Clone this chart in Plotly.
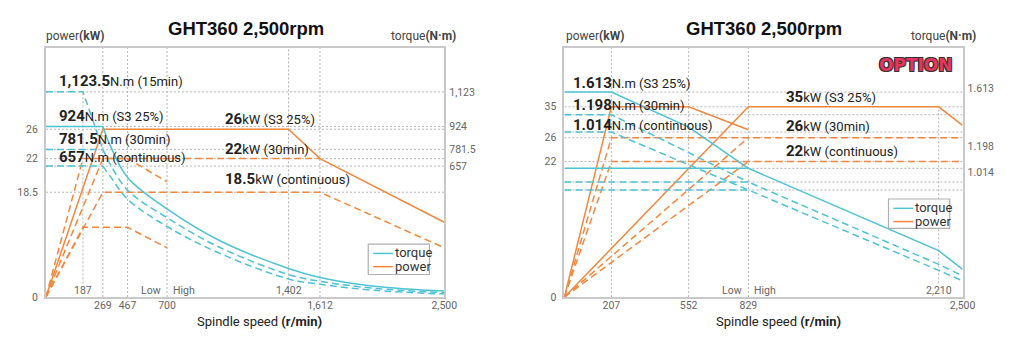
import numpy as np
import plotly.graph_objects as go

# ================= DATA =================
# ---- left chart (standard) ----
L_TITLE = "GHT360 2,500rpm"
L_X_TICKS = [269, 467, 700, 1612, 2500]
L_X_TICKTEXT = ["269", "467", "700", "1,612", "2,500"]
L_X_INNER = [187, 1402]
L_X_INNER_TEXT = ["187", "1,402"]
L_GEAR_RPM = 700
L_P_TICKS = [0, 18.5, 22, 26]
L_P_TICKTEXT = ["0", "18.5", "22", "26"]
L_T_TICKS = [657, 781.5, 924, 1123.5]
L_T_TICKTEXT = ["657", "781.5", "924", "1,123"]

# power (kW)
L_S3_RPM = [0, 269, 1402, 1612, 2500]
L_S3_KW = [0, 26, 26, 22, 13.2]
L_30_RPM = [0, 269, 1612]
L_30_KW = [0, 22, 22]
L_CONT_RPM = [0, 269, 1612, 2500]
L_CONT_KW = [0, 18.5, 18.5, 8.7]
L_LOW15_RPM = [0, 187, 467, 700]
L_LOW15_KW = [0, 22, 22, 19.6]
L_LOWC_RPM = [0, 187, 467, 700]
L_LOWC_KW = [0, 12.3, 12.3, 8.7]

# torque (N.m)
L_TQ_FLAT_RPM = [0, 269]
L_TQ_CURVE_RPM = [269, 330, 467, 700, 1000, 1402, 1612, 2000, 2500]
L_TQ_S3 = [924, 802, 600, 442, 285, 143, 98, 54, 30]
L_TQ_30 = [781.5, 667, 536, 398, 251, 113, 79, 44, 22]
L_TQ_CONT = [657, 604, 491, 354, 221, 91, 64, 34, 15]
L_TQ_15_RPM = [0, 187, 269]
L_TQ_15 = [1123.5, 1123.5, 781.5]

L_LABELS_T = [("1,123.5", "N.m (15min)"), ("924", "N.m (S3 25%)"),
              ("781.5", "N.m (30min)"), ("657", "N.m (continuous)")]
L_LABELS_P = [("26", "kW (S3 25%)"), ("22", "kW (30min)"), ("18.5", "kW (continuous)")]

# ---- right chart (option) ----
R_TITLE = "GHT360 2,500rpm"
R_X_TICKS = [207, 552, 829, 2500]
R_X_TICKTEXT = ["207", "552", "829", "2,500"]
R_X_INNER = [2210]
R_X_INNER_TEXT = ["2,210"]
R_GEAR_RPM = 829
R_P_TICKS = [0, 22, 26, 35]
R_P_TICKTEXT = ["0", "22", "26", "35"]
R_T_TICKTEXT = ["1.613", "1.198", "1.014"]

R_LOW_S3_RPM = [0, 207, 552, 829]
R_LOW_S3_KW = [0, 35, 35, 28.3]
R_HIGH_S3_RPM = [0, 829, 2210, 2500]
R_HIGH_S3_KW = [0, 35, 35, 29.6]
R_30_RPM = [0, 207, 2500]
R_30_KW = [0, 26, 26]
R_CONT_RPM = [0, 207, 2500]
R_CONT_KW = [0, 22, 22]
R_HIGH_UP_RPM = [0, 829]
R_HIGH30_KW = [0, 26]
R_HIGHC_KW = [0, 22]

R_LOW_TQ_S3_RPM = [0, 207, 552, 829]
R_LOW_TQ_S3 = [1613, 1613, 1066, 791]
R_LOW_TQ_RPM = [0, 207, 829]
R_LOW_TQ_30 = [1198, 1198, 707]
R_LOW_TQ_CONT = [1014, 1014, 658]
R_HIGH_TQ_RPM = [0, 829, 2210, 2500]
R_HIGH_TQ_S3 = [791, 791, 285, 170]
R_HIGH_TQ_30 = [707, 707, 201, 130]
R_HIGH_TQ_CONT = [658, 658, 164, 100]
R_GRID_TQ = [1613, 1198, 1014, 791, 707, 658]

R_LABELS_T = [("1.613", "N.m (S3 25%)"), ("1.198", "N.m (30min)"), ("1.014", "N.m (continuous)")]
R_LABELS_P = [("35", "kW (S3 25%)"), ("26", "kW (30min)"), ("22", "kW (continuous)")]

# ================= SCALES (schematic, piecewise) =================
L_XS_RPM = [0, 187, 269, 467, 700, 1402, 1612, 2500]
L_XS_POS = [0, 0.093, 0.143, 0.205, 0.304, 0.609, 0.688, 1.0]
L_PS_KW = [0, 18.5, 22, 26]
L_PS_POS = [0, 0.421, 0.556, 0.674]
L_TS_NM = [0, 657, 781.5, 924, 1123.5]
L_TS_POS = [0, 0.526, 0.593, 0.685, 0.824]

R_XS_RPM = [0, 207, 552, 829, 2210, 2500]
R_XS_POS = [0, 0.118, 0.312, 0.462, 0.940, 1.0]
R_PS_KW = [0, 22, 26, 35]
R_PS_POS = [0, 0.5445, 0.640, 0.764]
R_TS_NM = [0, 1014, 1198, 1613]
R_TS_POS = [0, 0.6626, 0.7323, 0.823]
R_T_LABEL_POS = [0.840, 0.606, 0.501]

# ================= STYLE / LAYOUT =================
W, H = 1020, 357
CYAN = "#4ec3d3"
ORANGE = "#f5873d"
GRID = "#b4b4b4"
FRAME = "#c9c9c9"
DASH = "7px,4px"
FONT = "Roboto"

L_DOM_X = [46.5, 450]
R_DOM_X = [571.7, 975]
DOM_Y = [49, 303]


def PX(x):
    return x / W


def PY(y):
    return 1 - y / H


def sx(v, side):
    return np.interp(v, *((L_XS_RPM, L_XS_POS) if side == "L" else (R_XS_RPM, R_XS_POS)))


def sp(v, side):
    return np.interp(v, *((L_PS_KW, L_PS_POS) if side == "L" else (R_PS_KW, R_PS_POS)))


def st(v, side):
    return np.interp(v, *((L_TS_NM, L_TS_POS) if side == "L" else (R_TS_NM, R_TS_POS)))


fig = go.Figure()


def line(side, rpm, yv, kind, color, dash="solid", shape="linear"):
    xa, ya = ("x", "y") if side == "L" else ("x2", "y2")
    yy = sp(yv, side) if kind == "p" else st(yv, side)
    fig.add_trace(go.Scatter(
        x=sx(rpm, side), y=yy, mode="lines", xaxis=xa, yaxis=ya,
        line=dict(color=color, width=1.5, dash=dash, shape=shape),
        hoverinfo="skip", showlegend=False))


# ---------- left chart traces ----------
line("L", L_30_RPM, L_30_KW, "p", ORANGE, DASH)
line("L", L_CONT_RPM, L_CONT_KW, "p", ORANGE, DASH)
line("L", L_LOW15_RPM, L_LOW15_KW, "p", ORANGE, DASH)
line("L", L_LOWC_RPM, L_LOWC_KW, "p", ORANGE, DASH)
line("L", L_S3_RPM, L_S3_KW, "p", ORANGE)

line("L", L_TQ_15_RPM, L_TQ_15, "t", CYAN, DASH)
for vals, d in ((L_TQ_30, DASH), (L_TQ_CONT, DASH), (L_TQ_S3, "solid")):
    line("L", L_TQ_FLAT_RPM, [vals[0], vals[0]], "t", CYAN, d)
    line("L", L_TQ_CURVE_RPM, vals, "t", CYAN, d, "spline")

# ---------- right chart traces ----------
line("R", R_HIGH_UP_RPM, R_HIGH30_KW, "p", ORANGE, DASH)
line("R", R_HIGH_UP_RPM, R_HIGHC_KW, "p", ORANGE, DASH)
line("R", R_30_RPM, R_30_KW, "p", ORANGE, DASH)
line("R", R_CONT_RPM, R_CONT_KW, "p", ORANGE, DASH)
line("R", R_LOW_S3_RPM, R_LOW_S3_KW, "p", ORANGE)
line("R", R_HIGH_S3_RPM, R_HIGH_S3_KW, "p", ORANGE)

line("R", R_LOW_TQ_RPM, R_LOW_TQ_30, "t", CYAN, DASH)
line("R", R_LOW_TQ_RPM, R_LOW_TQ_CONT, "t", CYAN, DASH)
line("R", R_HIGH_TQ_RPM, R_HIGH_TQ_30, "t", CYAN, DASH)
line("R", R_HIGH_TQ_RPM, R_HIGH_TQ_CONT, "t", CYAN, DASH)
line("R", R_LOW_TQ_S3_RPM, R_LOW_TQ_S3, "t", CYAN)
line("R", R_HIGH_TQ_RPM, R_HIGH_TQ_S3, "t", CYAN)

# ---------- shapes: gridlines ----------
shapes = []


def hgrid(side, yfrac):
    xr, yr = ("x", "y") if side == "L" else ("x2", "y2")
    shapes.append(dict(type="line", xref=xr, yref=yr, x0=0, x1=1, y0=yfrac, y1=yfrac,
                       line=dict(color=GRID, width=1, dash="2px,2px"), layer="below"))


def vgrid(side, xfrac, y0=0.0, y1=1.0):
    xr, yr = ("x", "y") if side == "L" else ("x2", "y2")
    shapes.append(dict(type="line", xref=xr, yref=yr, x0=xfrac, x1=xfrac, y0=y0, y1=y1,
                       line=dict(color=GRID, width=1, dash="2px,2px"), layer="below"))


LABEL_TOP = 0.055
for v in L_T_TICKS:
    hgrid("L", st(v, "L"))
for v in L_P_TICKS[1:]:
    hgrid("L", sp(v, "L"))
for v in L_X_TICKS[:-1]:
    vgrid("L", sx(v, "L"))
vgrid("L", sx(187, "L"), LABEL_TOP, st(1123.5, "L"))
vgrid("L", sx(1402, "L"), LABEL_TOP, 1.0)

for v in R_GRID_TQ:
    hgrid("R", st(v, "R"))
for v in R_P_TICKS[1:]:
    hgrid("R", sp(v, "R"))
for v in R_X_TICKS[:-1]:
    vgrid("R", sx(v, "R"))
vgrid("R", sx(2210, "R"), LABEL_TOP, sp(35, "R"))

# ---------- legends (manual boxes) ----------
def legend_box(x0, y0, x1, y1):
    shapes.append(dict(type="rect", xref="paper", yref="paper", x0=PX(x0), x1=PX(x1),
                       y0=PY(y1), y1=PY(y0), line=dict(color="#b0b0b0", width=1.2),
                       fillcolor="white", layer="above"))


def legend_line(x0, x1, y, color):
    shapes.append(dict(type="line", xref="paper", yref="paper", x0=PX(x0), x1=PX(x1),
                       y0=PY(y), y1=PY(y), line=dict(color=color, width=1.5), layer="above"))


ann = []


def text(x, y, s, size=12, color="#222", xanchor="left", family=FONT, **kw):
    ann.append(dict(x=PX(x), y=PY(y), xref="paper", yref="paper", text=s, showarrow=False,
                    xanchor=xanchor, yanchor="middle", align=xanchor, borderpad=0,
                    font=dict(family=family, size=size, color=color), **kw))


for (bx0, by0, bx1, by1) in ((373, 249, 435, 280), (900, 203, 962, 233)):
    legend_box(bx0, by0, bx1, by1)
    legend_line(bx0 + 5, bx0 + 25, by0 + 9.5, CYAN)
    legend_line(bx0 + 5, bx0 + 25, by0 + 23, ORANGE)
    text(bx0 + 26, by0 + 9, "torque", 13, "#333")
    text(bx0 + 26, by0 + 22.5, "power", 13, "#333")


def rich(num, rest):
    return f"<b><span style='font-size:15px'>{num}</span></b>{rest}"


# left chart labels
for (num, rest), yc in zip(L_LABELS_T, (82.7, 118.3, 141.7, 160)):
    text(59, yc, rich(num, rest), 13, "#222")
for (num, rest), yc in zip(L_LABELS_P, (121.7, 151.7, 183)):
    text(227, yc, rich(num, rest), 13, "#222")
# right chart labels
for (num, rest), yc in zip(R_LABELS_T, (85, 107.3, 127.3)):
    text(579, yc, rich(num, rest), 13, "#222")
for (num, rest), yc in zip(R_LABELS_P, (99, 128.3, 154.3)):
    text(795, yc, rich(num, rest), 13, "#222")

# titles
text(249, 29, f"<b>{L_TITLE}</b>", 18.5, "#111", "center", "Liberation Sans")
text(774, 29, f"<b>{R_TITLE}</b>", 18.5, "#111", "center", "Liberation Sans")
# axis names
for xl, xr in ((46, 463), (572, 990)):
    text(xl, 37, "power<b>(kW)</b>", 12, "#444")
    text(xr, 37, "torque<b>(N·m)</b>", 12, "#444", "right")
text(263, 328, "Spindle speed <b>(r/min)</b>", 13, "#222", "center")
text(789, 328, "Spindle speed <b>(r/min)</b>", 13, "#222", "center")

# inner x labels, low/high
def xpix(side, rpm):
    d = L_DOM_X if side == "L" else R_DOM_X
    return d[0] + sx(rpm, side) * (d[1] - d[0])


for side, vals, txts in (("L", L_X_INNER, L_X_INNER_TEXT), ("R", R_X_INNER, R_X_INNER_TEXT)):
    for v, t in zip(vals, txts):
        text(xpix(side, v), 296, t, 10.5, "#666", "center")
for side, g in (("L", L_GEAR_RPM), ("R", R_GEAR_RPM)):
    gx = xpix(side, g)
    text(gx - 5, 296, "Low", 10.5, "#666", "right")
    text(gx + 5, 296, "High", 10.5, "#666", "left")

# OPTION badge
ann.append(dict(x=PX(928), y=PY(66.5), xref="paper", yref="paper", text="<b>OPTION</b>",
                showarrow=False, xanchor="center", yanchor="middle",
                font=dict(family="DejaVu Sans", size=17, color="#e8345e",
                          shadow="1px 1px 0 #333, -1px -1px 0 #333, 1px -1px 0 #333, -1px 1px 0 #333")))

# ---------- axes ----------
tickfont = dict(family=FONT, size=10.5, color="#666")
common_x = dict(range=[0, 1], showgrid=False, zeroline=False, showline=True, mirror=True,
                linecolor=FRAME, linewidth=2, ticks="", tickfont=tickfont, fixedrange=True,
                ticklabelstandoff=-3)
common_y = dict(range=[0, 1], showgrid=False, zeroline=False, showline=True, mirror=True,
                linecolor=FRAME, linewidth=2, ticks="", tickfont=tickfont, fixedrange=True,
                ticklabelstandoff=4)

fig.update_layout(
    width=W, height=H, margin=dict(l=0, r=0, t=0, b=0),
    paper_bgcolor="white", plot_bgcolor="white", showlegend=False,
    xaxis=dict(common_x, domain=[PX(L_DOM_X[0]), PX(L_DOM_X[1])], anchor="y",
               tickvals=sx(L_X_TICKS, "L"), ticktext=L_X_TICKTEXT),
    yaxis=dict(common_y, domain=[PY(DOM_Y[1]), PY(DOM_Y[0])], anchor="x",
               tickvals=sp(L_P_TICKS, "L"), ticktext=L_P_TICKTEXT),
    yaxis3=dict(common_y, overlaying="y", side="right", anchor="x", ticklabelstandoff=4,
                tickvals=st(L_T_TICKS, "L"), ticktext=L_T_TICKTEXT, showline=False),
    xaxis2=dict(common_x, domain=[PX(R_DOM_X[0]), PX(R_DOM_X[1])], anchor="y2",
                tickvals=sx(R_X_TICKS, "R"), ticktext=R_X_TICKTEXT),
    yaxis2=dict(common_y, domain=[PY(DOM_Y[1]), PY(DOM_Y[0])], anchor="x2",
                tickvals=sp(R_P_TICKS, "R"), ticktext=R_P_TICKTEXT),
    yaxis4=dict(common_y, overlaying="y2", side="right", anchor="x2", ticklabelstandoff=4,
                tickvals=R_T_LABEL_POS, ticktext=R_T_TICKTEXT, showline=False),
    shapes=shapes, annotations=ann,
)
# invisible traces to activate the right-hand torque axes
fig.add_trace(go.Scatter(x=[0], y=[0], xaxis="x", yaxis="y3", mode="markers",
                         marker=dict(opacity=0), hoverinfo="skip", showlegend=False))
fig.add_trace(go.Scatter(x=[0], y=[0], xaxis="x2", yaxis="y4", mode="markers",
                         marker=dict(opacity=0), hoverinfo="skip", showlegend=False))

# remove the default page margin so the figure sits at the window origin
fig.write_html("out.html", config={"displayModeBar": False},
               post_script="document.body.style.margin='0';")
